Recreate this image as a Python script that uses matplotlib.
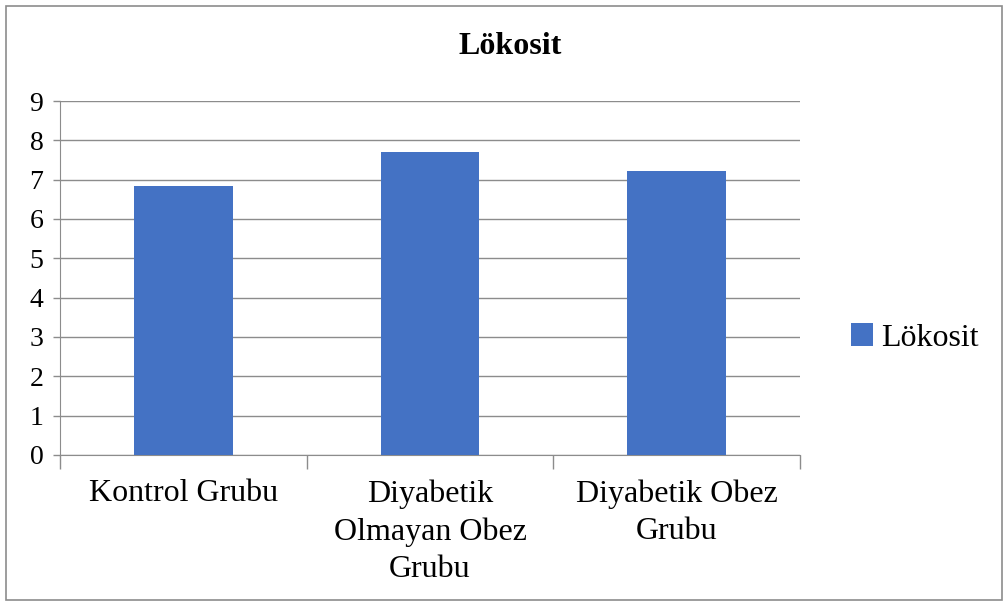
import matplotlib.pyplot as plt
from matplotlib.patches import Rectangle

categories = ['Kontrol Grubu', 'Diyabetik\nOlmayan Obez\nGrubu', 'Diyabetik Obez\nGrubu']
lokosit = [6.84, 7.70, 7.21]
yticks = list(range(0, 10))

plt.rcParams['font.family'] = ['Liberation Serif', 'DejaVu Serif']

fig = plt.figure(figsize=(10.05, 6.03), dpi=100)
ax = fig.add_axes([60 / 1005, 1 - 455 / 603, 740 / 1005, 354 / 603])

x = range(len(categories))
ax.bar(x, lokosit, width=0.4, color='#4472C4', label='Lökosit', zorder=3)

ax.set_xlim(-0.5, 2.5)
ax.set_ylim(0, 9)
ax.set_yticks(yticks)
ax.set_yticklabels([str(t) for t in yticks], fontsize=20)
ax.yaxis.grid(True, color='#8c8c8c', linewidth=1, zorder=0)

# category labels between boundary ticks
ax.set_xticks([-0.5, 0.5, 1.5, 2.5])
ax.set_xticklabels([])
ax.tick_params(axis='x', length=10, color='#8c8c8c', width=1, direction='out')
ax.tick_params(axis='y', length=5, color='#8c8c8c', width=1, pad=7)
for i, c in enumerate(categories):
    ax.text(i, -0.62, c, ha='center', va='top', fontsize=23, linespacing=1.37,
            transform=ax.transData)

for s in ['top', 'right']:
    ax.spines[s].set_visible(False)
ax.spines['left'].set_color('#8c8c8c')
ax.spines['bottom'].set_color('#8c8c8c')

fig.text(510 / 1005, 1 - 47 / 603, 'Lökosit', ha='center', va='center',
         fontsize=23, fontweight='bold')

ax.legend(loc='center left', bbox_to_anchor=(1.03, 0.33), frameon=False,
          fontsize=23, handlelength=0.7, handleheight=0.7, handletextpad=0.25)

# outer chart border
fig.patches.append(Rectangle((6 / 1005, 3 / 603), 996 / 1005, 594 / 603,
                             transform=fig.transFigure, fill=False,
                             edgecolor='#8c8c8c', linewidth=1.2))

fig.savefig('out.png', dpi=100)
